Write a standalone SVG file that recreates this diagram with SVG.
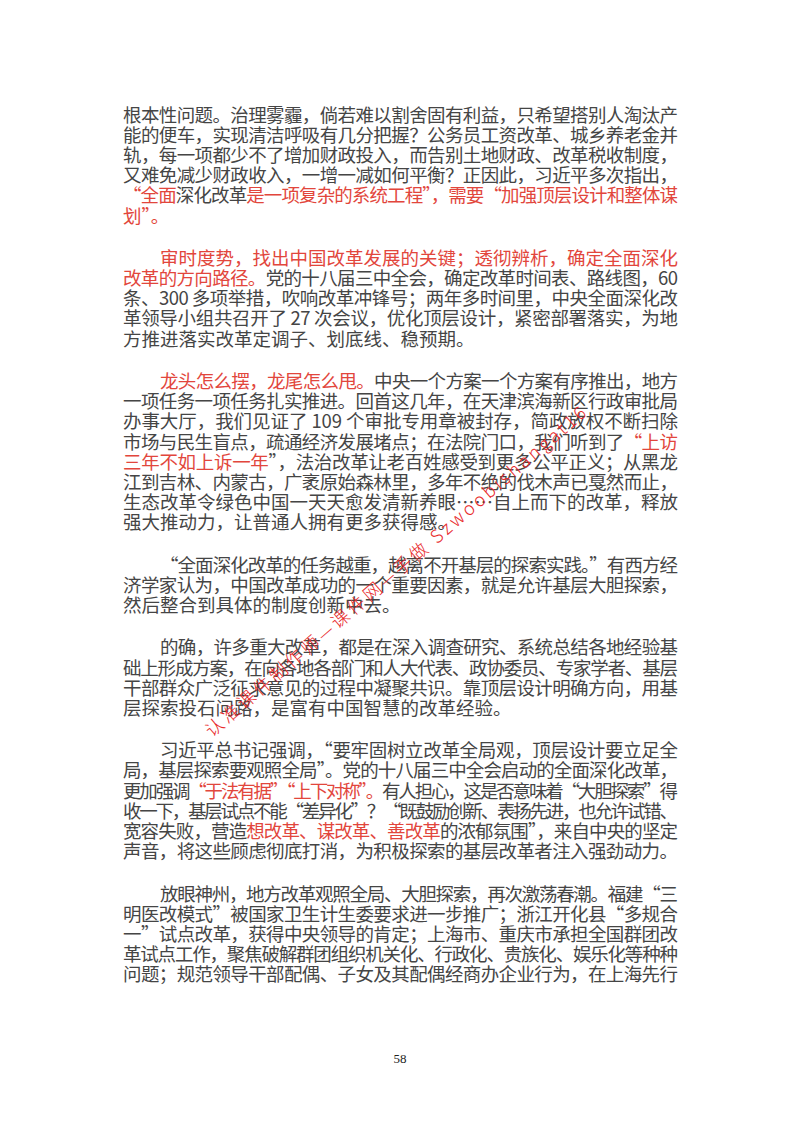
<svg xmlns="http://www.w3.org/2000/svg" width="800" height="1132" viewBox="0 0 800 1132">
<style>
text{font-family:"Noto Sans CJK SC","Liberation Sans",sans-serif;font-size:18.5px;fill:#454545}
.r{fill:#e2463c}
.pg{font-family:"Liberation Serif",serif;font-size:13px;fill:#222}
.wm{font-family:"Noto Sans CJK SC",sans-serif;font-size:18px;font-weight:300;fill:#e8282a;letter-spacing:3px}
</style>
<rect width="800" height="1132" fill="#fff"/>
<g id="p1">
<text x="123" y="121.5" textLength="555" lengthAdjust="spacing">根本性问题。治理雾霾，倘若难以割舍固有利益，只希望搭别人淘汰产</text>
<text x="123" y="141.7" textLength="555" lengthAdjust="spacing">能的便车，实现清洁呼吸有几分把握？公务员工资改革、城乡养老金并</text>
<text x="123" y="161.9" textLength="555" lengthAdjust="spacing">轨，每一项都少不了增加财政投入，而告别土地财政、改革税收制度，</text>
<text x="123" y="182.1" textLength="555" lengthAdjust="spacing">又难免减少财政收入，一增一减如何平衡？正因此，习近平多次指出，</text>
<text x="123" y="202.3" textLength="555" lengthAdjust="spacing"><tspan class="r">“全面</tspan>深化改革<tspan class="r">是一项复杂的系统工程”，需要“加强顶层设计和整体谋</tspan></text>
<text x="123" y="222.5" class="r">划”。</text>
</g>
<g id="p2">
<text x="160" y="264.8" textLength="518" lengthAdjust="spacing" class="r">审时度势，找出中国改革发展的关键；透彻辨析，确定全面深化</text>
<text x="123" y="285" textLength="555" lengthAdjust="spacing"><tspan class="r">改革的方向路径。</tspan>党的十八届三中全会，确定改革时间表、路线图，60</text>
<text x="123" y="305.2" textLength="555" lengthAdjust="spacing">条、300 多项举措，吹响改革冲锋号；两年多时间里，中央全面深化改</text>
<text x="123" y="325.4" textLength="555" lengthAdjust="spacing">革领导小组共召开了 27 次会议，优化顶层设计，紧密部署落实，为地</text>
<text x="123" y="345.6">方推进落实改革定调子、划底线、稳预期。</text>
</g>
<g id="p3">
<text x="160" y="387.9" textLength="518" lengthAdjust="spacing"><tspan class="r">龙头怎么摆，龙尾怎么甩。</tspan>中央一个方案一个方案有序推出，地方</text>
<text x="123" y="408.1" textLength="555" lengthAdjust="spacing">一项任务一项任务扎实推进。回首这几年，在天津滨海新区行政审批局</text>
<text x="123" y="428.3" textLength="555" lengthAdjust="spacing">办事大厅，我们见证了 109 个审批专用章被封存，简政放权不断扫除</text>
<text x="123" y="448.5" textLength="555" lengthAdjust="spacing">市场与民生盲点，疏通经济发展堵点；在法院门口，我们听到了<tspan class="r">“上访</tspan></text>
<text x="123" y="468.7" textLength="555" lengthAdjust="spacing"><tspan class="r">三年不如上诉一年</tspan>”，法治改革让老百姓感受到更多公平正义；从黑龙</text>
<text x="123" y="488.9" textLength="555" lengthAdjust="spacing">江到吉林、内蒙古，广袤原始森林里，多年不绝的伐木声已戛然而止，</text>
<text x="123" y="509.1" textLength="555" lengthAdjust="spacing">生态改革令绿色中国一天天愈发清新养眼……自上而下的改革，释放</text>
<text x="123" y="529.3">强大推动力，让普通人拥有更多获得感。</text>
</g>
<g id="p4">
<text x="160" y="571.6" textLength="518" lengthAdjust="spacing">“全面深化改革的任务越重，越离不开基层的探索实践。”有西方经</text>
<text x="123" y="591.8" textLength="555" lengthAdjust="spacing">济学家认为，中国改革成功的一个重要因素，就是允许基层大胆探索，</text>
<text x="123" y="612">然后整合到具体的制度创新中去。</text>
</g>
<g id="p5">
<text x="160" y="654.3" textLength="518" lengthAdjust="spacing">的确，许多重大改革，都是在深入调查研究、系统总结各地经验基</text>
<text x="123" y="674.5" textLength="555" lengthAdjust="spacing">础上形成方案，在向各地各部门和人大代表、政协委员、专家学者、基层</text>
<text x="123" y="694.7" textLength="555" lengthAdjust="spacing">干部群众广泛征求意见的过程中凝聚共识。靠顶层设计明确方向，用基</text>
<text x="123" y="714.9">层探索投石问路，是富有中国智慧的改革经验。</text>
</g>
<g id="p6">
<text x="160" y="757.2" textLength="518" lengthAdjust="spacing">习近平总书记强调，“要牢固树立改革全局观，顶层设计要立足全</text>
<text x="123" y="777.4" textLength="555" lengthAdjust="spacing">局，基层探索要观照全局”。党的十八届三中全会启动的全面深化改革，</text>
<text x="123" y="797.6" textLength="555" lengthAdjust="spacing">更加强调<tspan class="r">“于法有据”“上下对称”。</tspan>有人担心，这是否意味着“大胆探索”得</text>
<text x="123" y="817.8" textLength="555" lengthAdjust="spacing">收一下，基层试点不能“差异化”？“既鼓励创新、表扬先进，也允许试错、</text>
<text x="123" y="838" textLength="555" lengthAdjust="spacing">宽容失败，营造<tspan class="r">想改革、谋改革、善改革</tspan>的浓郁氛围”，来自中央的坚定</text>
<text x="123" y="858.2" textLength="555" lengthAdjust="spacing">声音，将这些顾虑彻底打消，为积极探索的基层改革者注入强劲动力。</text>
</g>
<g id="p7">
<text x="160" y="900.5" textLength="518" lengthAdjust="spacing">放眼神州，地方改革观照全局、大胆探索，再次激荡春潮。福建“三</text>
<text x="123" y="920.7" textLength="555" lengthAdjust="spacing">明医改模式”被国家卫生计生委要求进一步推广；浙江开化县“多规合</text>
<text x="123" y="940.9" textLength="555" lengthAdjust="spacing">一”试点改革，获得中央领导的肯定；上海市、重庆市承担全国群团改</text>
<text x="123" y="961.1" textLength="555" lengthAdjust="spacing">革试点工作，聚焦破解群团组织机关化、行政化、贵族化、娱乐化等种种</text>
<text x="123" y="981.3" textLength="555" lengthAdjust="spacing">问题；规范领导干部配偶、子女及其配偶经商办企业行为，在上海先行</text>
</g>
<text class="pg" x="400" y="1063" text-anchor="middle">58</text>
<g id="watermark">
<text class="wm" transform="translate(212,738) rotate(-40.7)">认准课件制作师—课件网—手做 Szwoobishangat16</text>
</g>
</svg>
